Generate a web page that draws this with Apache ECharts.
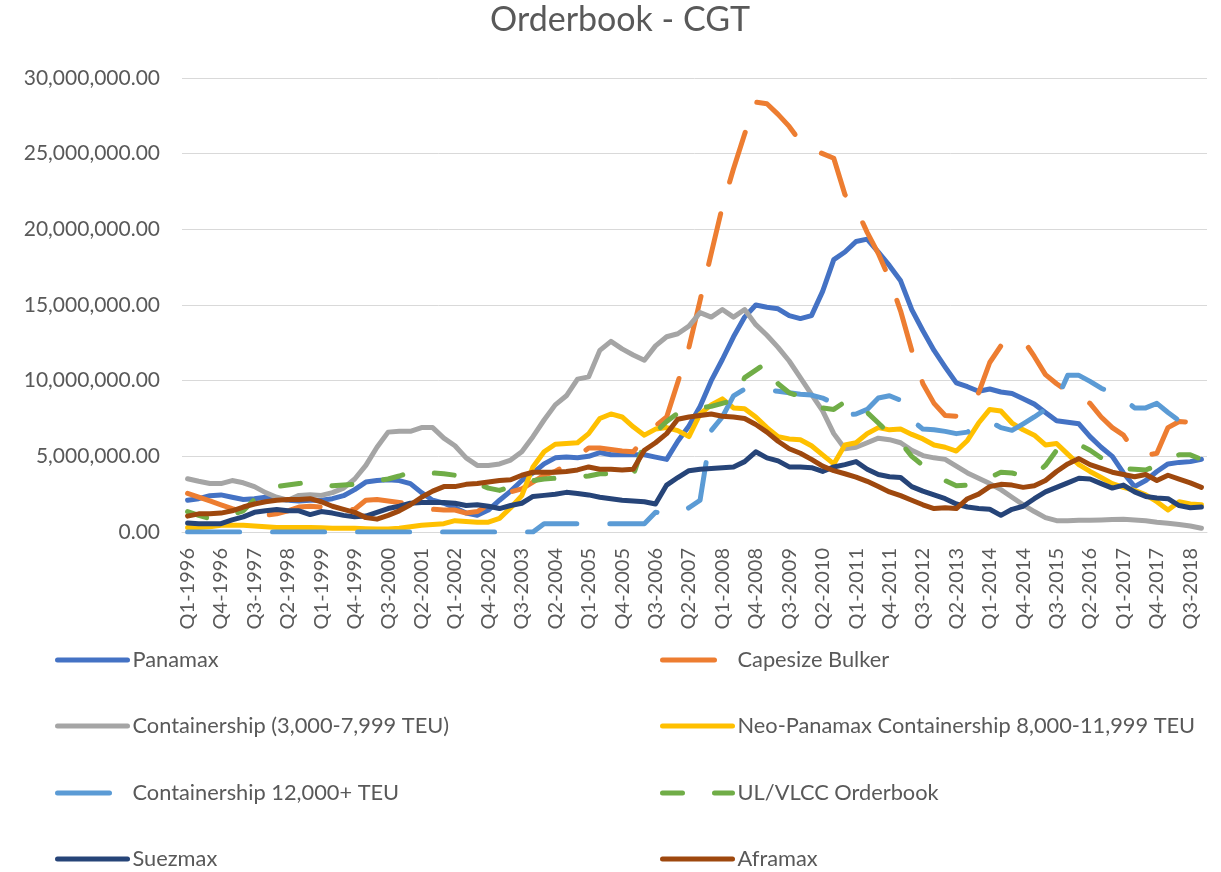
<!DOCTYPE html>
<html><head><meta charset="utf-8">
<script src="https://cdn.jsdelivr.net/npm/echarts@6/dist/echarts.min.js"></script>
<style>html,body{margin:0;padding:0;background:#fff}#c{width:1221px;height:872px}</style>
</head><body><div id="c"></div>
<script>
// ---------- DATA (values in millions of CGT) ----------
const categories = [
'Q1-1996','Q2-1996','Q3-1996','Q4-1996','Q1-1997','Q2-1997','Q3-1997','Q4-1997',
'Q1-1998','Q2-1998','Q3-1998','Q4-1998','Q1-1999','Q2-1999','Q3-1999','Q4-1999',
'Q1-2000','Q2-2000','Q3-2000','Q4-2000','Q1-2001','Q2-2001','Q3-2001','Q4-2001',
'Q1-2002','Q2-2002','Q3-2002','Q4-2002','Q1-2003','Q2-2003','Q3-2003','Q4-2003',
'Q1-2004','Q2-2004','Q3-2004','Q4-2004','Q1-2005','Q2-2005','Q3-2005','Q4-2005',
'Q1-2006','Q2-2006','Q3-2006','Q4-2006','Q1-2007','Q2-2007','Q3-2007','Q4-2007',
'Q1-2008','Q2-2008','Q3-2008','Q4-2008','Q1-2009','Q2-2009','Q3-2009','Q4-2009',
'Q1-2010','Q2-2010','Q3-2010','Q4-2010','Q1-2011','Q2-2011','Q3-2011','Q4-2011',
'Q1-2012','Q2-2012','Q3-2012','Q4-2012','Q1-2013','Q2-2013','Q3-2013','Q4-2013',
'Q1-2014','Q2-2014','Q3-2014','Q4-2014','Q1-2015','Q2-2015','Q3-2015','Q4-2015',
'Q1-2016','Q2-2016','Q3-2016','Q4-2016','Q1-2017','Q2-2017','Q3-2017','Q4-2017',
'Q1-2018','Q2-2018','Q3-2018','Q4-2018'
];

const panamax = [
2.1,2.2,2.4,2.45, 2.3,2.15,2.2,2.3, 2.2,2.1,2.05,2.1, 2.1,2.2,2.4,2.8,
3.3,3.4,3.45,3.4, 3.2,2.6,2.1,1.9, 1.6,1.25,1.1,1.45, 2.1,2.7,3.4,3.9,
4.5,4.9,4.95,4.9, 5.0,5.25,5.1,5.1, 5.1,5.1,4.95,4.8, 6.0,7.0,8.3,10.0,
11.4,12.9,14.2,15.0, 14.85,14.75,14.3,14.1, 14.3,15.9,18.0,18.5, 19.2,19.35,18.5,17.6,
16.6,14.7,13.3,12.0, 10.9,9.85,9.6,9.3, 9.45,9.25,9.15,8.8, 8.45,7.9,7.35,7.25,
7.15,6.3,5.6,5.0, 3.9,3.0,3.4,4.0, 4.5,4.6,4.65,4.8
];
const capesize = [
2.55,2.3,2.05,1.8, 1.55,1.35,1.2,1.1, 1.2,1.4,1.65,1.7, 1.65,1.5,1.4,1.5,
2.1,2.15,2.05,1.95, 1.85,1.65,1.5,1.45, 1.45,1.25,1.35,1.8, 2.2,2.65,2.85,3.3,
3.75,4.0,4.45,5.0, 5.55,5.55,5.45,5.35, 5.3,6.2,7.0,7.6, 9.9,12.2,15.3,18.4,
21.5,24.0,26.3,28.4, 28.3,27.6,26.8,25.8, 25.3,25.0,24.7,22.3, 21.4,19.8,18.4,16.7,
14.6,12.0,9.8,8.5, 7.7,7.65,8.2,9.2, 11.2,12.3,12.6,12.7, 11.6,10.4,9.8,9.3,
9.0,8.5,7.6,6.9, 6.4,5.3,5.05,5.2, 6.9,7.3,7.25,7.15
];
const container3to8k = [
3.52,3.35,3.2,3.2, 3.4,3.25,3.0,2.6, 2.3,2.1,2.42,2.46, 2.42,2.6,2.9,3.5,
4.4,5.6,6.6,6.65, 6.65,6.9,6.9,6.2, 5.7,4.9,4.4,4.4, 4.5,4.75,5.3,6.3,
7.4,8.4,9.0,10.1, 10.25,12.0,12.6,12.1, 11.7,11.35,12.3,12.9, 13.1,13.6,14.5,14.2,
14.7,14.2,14.7,13.7, 13.0,12.2,11.3,10.2, 9.1,8.0,6.5,5.5, 5.6,5.9,6.2,6.1,
5.9,5.4,5.05,4.9, 4.8,4.35,3.9,3.55, 3.2,2.8,2.3,1.8, 1.35,0.95,0.75,0.75,
0.78,0.78,0.8,0.82, 0.85,0.8,0.75,0.65, 0.58,0.5,0.4,0.25
];
const neoPanamax = [
0.3,0.3,0.35,0.45, 0.45,0.45,0.4,0.35, 0.3,0.3,0.3,0.3, 0.28,0.25,0.25,0.25,
0.22,0.2,0.2,0.25, 0.35,0.45,0.5,0.55, 0.75,0.7,0.65,0.65, 0.9,1.6,2.4,4.3,
5.3,5.8,5.85,5.9, 6.5,7.5,7.8,7.6, 6.95,6.4,6.8,6.9, 6.7,6.3,7.8,8.4,
8.8,8.2,8.15,7.6, 6.9,6.3,6.15,6.1, 5.7,5.1,4.5,5.75, 5.9,6.5,6.9,6.75,
6.8,6.45,6.15,5.75, 5.6,5.35,6.05,7.2, 8.1,8.0,7.2,6.75, 6.4,5.75,5.85,5.15,
4.45,4.0,3.6,3.2, 2.95,2.75,2.45,2.0, 1.45,2.0,1.85,1.8
];
const container12k = [
0,0,0,0, 0,0,0,0, 0,0,0,0, 0,0,0,0,
0,0,0,0, 0,0,0,0, 0,0,0,0, 0,0,0,0,
0.55,0.55,0.55,0.55, 0.55,0.55,0.55,0.55, 0.55,0.55,1.3,1.25, 1.2,1.6,2.1,6.7,
7.6,9.0,9.45,9.45, 9.4,9.3,9.2,9.1, 9.05,8.85,8.5,7.7, 7.8,8.1,8.85,9.0,
8.7,7.4,6.8,6.75, 6.65,6.5,6.6,7.25, 7.3,6.9,6.72,7.15, 7.6,8.1,8.7,10.35,
10.35,9.95,9.5,9.2, 8.8,8.2,8.2,8.5, 7.9,7.35,7.3,7.2
];
const ulvlcc = [
1.35,1.1,0.88,1.0, 1.15,1.4,2.15,2.8, 3.0,3.1,3.2,3.3, 3.2,3.05,3.1,3.15,
3.2,3.4,3.5,3.7, 3.95,3.95,3.9,3.85, 3.75,3.5,3.2,2.9, 2.75,3.0,3.25,3.4,
3.5,3.55,3.6,3.65, 3.7,3.85,3.85,3.8, 3.75,5.9,6.6,7.3, 7.85,8.0,8.2,8.3,
8.5,8.7,10.2,10.7, 11.2,9.8,9.2,8.95, 8.7,8.2,8.1,8.6, 8.6,7.9,7.2,6.5,
5.9,5.0,4.4,3.8, 3.4,3.05,3.1,3.3, 3.6,3.95,3.9,3.7, 3.75,4.4,5.4,5.9,
5.8,5.4,4.9,4.5, 4.2,4.15,4.1,4.4, 4.8,5.1,5.1,4.8
];
const suezmax = [
0.6,0.55,0.55,0.55, 0.8,1.0,1.3,1.4, 1.48,1.4,1.4,1.15, 1.35,1.25,1.1,1.0,
1.05,1.3,1.55,1.7, 1.9,1.95,1.95,1.95, 1.9,1.75,1.8,1.7, 1.55,1.75,1.9,2.35,
2.42,2.5,2.62,2.55, 2.45,2.3,2.2,2.1, 2.05,2.0,1.85,3.1, 3.6,4.05,4.15,4.2,
4.25,4.3,4.65,5.3, 4.9,4.7,4.3,4.3, 4.25,4.0,4.3,4.45, 4.65,4.15,3.8,3.65,
3.6,3.0,2.7,2.45, 2.2,1.85,1.65,1.55, 1.5,1.1,1.5,1.7, 2.2,2.65,2.95,3.25,
3.55,3.5,3.2,2.9, 3.1,2.65,2.35,2.25, 2.2,1.75,1.6,1.65
];
const aframax = [
1.05,1.2,1.2,1.25, 1.4,1.65,1.85,2.0, 2.1,2.15,2.15,2.2, 2.0,1.7,1.5,1.3,
0.95,0.85,1.1,1.4, 1.8,2.3,2.7,3.0, 3.0,3.15,3.2,3.3, 3.4,3.45,3.75,3.95,
3.95,3.95,4.0,4.1, 4.3,4.15,4.15,4.1, 4.15,5.4,5.9,6.5, 7.45,7.6,7.7,7.8,
7.65,7.6,7.5,7.1, 6.6,6.0,5.5,5.2, 4.8,4.35,4.05,3.85, 3.63,3.35,3.0,2.65,
2.4,2.1,1.8,1.55, 1.6,1.55,2.2,2.5, 3.0,3.15,3.1,2.95, 3.05,3.4,4.0,4.5,
4.85,4.45,4.2,3.95, 3.8,3.65,3.8,3.4, 3.75,3.5,3.25,2.95
];

const seriesNames = ['Panamax','Capesize Bulker','Containership (3,000-7,999 TEU)',
  'Neo-Panamax Containership 8,000-11,999 TEU','Containership 12,000+ TEU',
  'UL/VLCC Orderbook','Suezmax','Aframax'];
const seriesData = [panamax, capesize, container3to8k, neoPanamax, container12k, ulvlcc, suezmax, aframax];

// ---------- STYLE ----------
const FONT = 'Lato';
const TXT = '#595959';
const colors = ['#4472C4','#ED7D31','#A5A5A5','#FFC000','#5B9BD5','#70AD47','#264478','#9E480E'];
const LONG = [52,33], SHORT = [20,32];
const dashes = ['solid', LONG, 'solid', 'solid', LONG, SHORT, 'solid', 'solid'];
const LW = 5;

const series = seriesNames.map((n,k)=>({
  name:n, type:'line', data:seriesData[k], symbol:'none', showSymbol:false, smooth:false,
  lineStyle:{color:colors[k], width:LW, type:dashes[k], cap:'round', join:'round'},
  itemStyle:{color:colors[k]}, emphasis:{disabled:true}
}));

const colX = [55, 660];
const rowY = [660, 726, 793, 859];
const legends = seriesNames.map((n,k)=>({
  data:[n], left:colX[k%2], top:rowY[Math.floor(k/2)]-12, orient:'horizontal',
  itemWidth:70, itemHeight:24, padding:0, selectedMode:false,
  textStyle:{fontFamily:FONT, fontSize:21.8, color:TXT, lineHeight:24},
  lineStyle:{width:LW, type:dashes[k], cap:'round', color:colors[k]},
  itemStyle:{opacity:0}
}));

const chart = echarts.init(document.getElementById('c'), null, {renderer:'canvas'});
chart.setOption({
  animation:false,
  backgroundColor:'#ffffff',
  title:{text:'Orderbook - CGT', left:620, top:3, textAlign:'center', padding:0,
    textStyle:{fontFamily:FONT, fontSize:34, fontWeight:'normal', color:TXT}},
  legend:legends,
  grid:{left:182, right:14, top:78, height:454, containLabel:false},
  xAxis:{type:'category', data:categories, boundaryGap:true,
    axisLine:{lineStyle:{color:'#D9D9D9', width:1}}, axisTick:{show:false},
    axisLabel:{interval:2, rotate:90, margin:16, fontFamily:FONT, fontSize:20, color:TXT},
    splitLine:{show:false}},
  yAxis:{type:'value', min:0, max:30, interval:5,
    axisLine:{show:false}, axisTick:{show:false},
    splitLine:{lineStyle:{color:'#D9D9D9', width:1}},
    axisLabel:{margin:22, fontFamily:FONT, fontSize:21, color:TXT,
      formatter:v=>(v*1e6).toLocaleString('en-US',{minimumFractionDigits:2, maximumFractionDigits:2})}},
  series:series
});
</script>
</body></html>
